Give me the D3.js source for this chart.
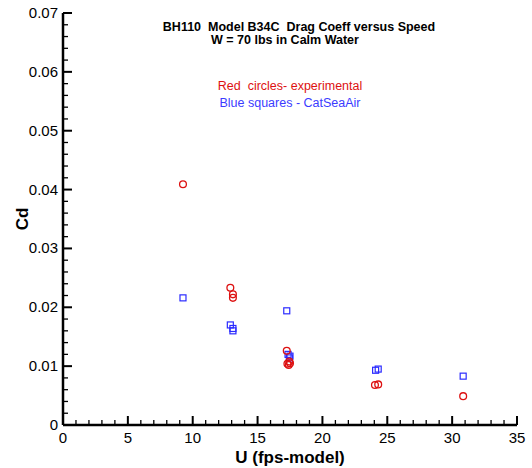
<!DOCTYPE html>
<html>
<head>
<meta charset="utf-8">
<script src="https://cdn.jsdelivr.net/npm/d3@7"></script>
<style>
  body { margin: 0; background: #fff; }
  text { font-family: "Liberation Sans", Arial, sans-serif; white-space: pre; }
</style>
</head>
<body>
<svg width="532" height="468"></svg>
<script>
// experimental (red circles)
var expU  = [9.25, 12.9, 13.1, 13.1, 17.25, 17.45, 17.3, 17.4, 17.5, 24.05, 24.3, 30.85];
var expCd = [0.0409, 0.0233, 0.0222, 0.0216, 0.0126, 0.0108, 0.0104, 0.0102, 0.0105, 0.0068, 0.0069, 0.0049];
// CatSeaAir (blue squares)
var csaU  = [9.25, 12.9, 13.1, 13.1, 17.25, 17.35, 17.5, 17.45, 24.1, 24.3, 30.85];
var csaCd = [0.0216, 0.0170, 0.0164, 0.0160, 0.0194, 0.0120, 0.0117, 0.0114, 0.0093, 0.0095, 0.0083];

var xTicks = [0, 5, 10, 15, 20, 25, 30, 35];
var yTicks = [0, 0.01, 0.02, 0.03, 0.04, 0.05, 0.06, 0.07];

var svg = d3.select("svg");
var margin = {left: 63, right: 15, top: 13, bottom: 43};
var width = +svg.attr("width"), height = +svg.attr("height");

var x = d3.scaleLinear().domain([0, 35]).range([margin.left, width - margin.right]);
var y = d3.scaleLinear().domain([0, 0.07]).range([height - margin.bottom, margin.top]);

// minor ticks
var xMinor = d3.range(0, 35.01, 1).filter(function (d) { return d % 5 !== 0; });
var yMinor = d3.range(0, 71, 2).map(function (d) { return d / 1000; })
    .filter(function (d) { return Math.round(d * 1000) % 10 !== 0; });

var g = svg.append("g");

g.selectAll(".xminor").data(xMinor).enter().append("line")
    .attr("x1", function (d) { return x(d); }).attr("x2", function (d) { return x(d); })
    .attr("y1", y(0)).attr("y2", y(0) - 5)
    .attr("stroke", "#000").attr("stroke-width", 1.3);
g.selectAll(".xmajor").data(xTicks).enter().append("line")
    .attr("x1", function (d) { return x(d); }).attr("x2", function (d) { return x(d); })
    .attr("y1", y(0)).attr("y2", y(0) - 9)
    .attr("stroke", "#000").attr("stroke-width", 2);
g.selectAll(".yminor").data(yMinor).enter().append("line")
    .attr("y1", function (d) { return y(d); }).attr("y2", function (d) { return y(d); })
    .attr("x1", x(0)).attr("x2", x(0) + 5)
    .attr("stroke", "#000").attr("stroke-width", 1.3);
g.selectAll(".ymajor").data(yTicks).enter().append("line")
    .attr("y1", function (d) { return y(d); }).attr("y2", function (d) { return y(d); })
    .attr("x1", x(0)).attr("x2", x(0) + 9)
    .attr("stroke", "#000").attr("stroke-width", 2);

// axis lines
g.append("line").attr("x1", x(0)).attr("x2", x(35)).attr("y1", y(0)).attr("y2", y(0))
    .attr("stroke", "#000").attr("stroke-width", 2.5);
g.append("line").attr("x1", x(0)).attr("x2", x(0)).attr("y1", y(0)).attr("y2", y(0.07))
    .attr("stroke", "#000").attr("stroke-width", 2.5);

// tick labels
g.selectAll(".xlab").data(xTicks).enter().append("text")
    .attr("x", function (d) { return x(d); })
    .attr("y", y(0) + 18)
    .attr("text-anchor", "middle")
    .style("font-size", "15px")
    .text(function (d) { return d; });
g.selectAll(".ylab").data(yTicks).enter().append("text")
    .attr("x", x(0) - 5)
    .attr("y", function (d) { return y(d) + 5; })
    .attr("text-anchor", "end")
    .style("font-size", "15px")
    .text(function (d) { return d === 0 ? "0" : d3.format(".2f")(d); });

// axis titles
svg.append("text")
    .attr("x", 290).attr("y", 463)
    .attr("text-anchor", "middle")
    .style("font-size", "17px").style("font-weight", "bold")
    .text("U (fps-model)");
svg.append("text")
    .attr("transform", "translate(28," + y(0.035) + ") rotate(-90)")
    .attr("text-anchor", "middle")
    .style("font-size", "17px").style("font-weight", "bold")
    .text("Cd");

// title & legend text
svg.append("text").attr("x", 299).attr("y", 31).attr("text-anchor", "middle")
    .style("font-size", "12.5px").style("font-weight", "bold")
    .text("BH110  Model B34C  Drag Coeff versus Speed");
svg.append("text").attr("x", 285).attr("y", 44).attr("text-anchor", "middle")
    .style("font-size", "12.5px").style("font-weight", "bold")
    .text("W = 70 lbs in Calm Water");
svg.append("text").attr("x", 290).attr("y", 90).attr("text-anchor", "middle")
    .style("font-size", "12.5px").attr("fill", "#dd1111")
    .text("Red  circles- experimental");
svg.append("text").attr("x", 290).attr("y", 107).attr("text-anchor", "middle")
    .style("font-size", "12.5px").attr("fill", "#3b3bff")
    .text("Blue squares - CatSeaAir");

// points
var exp = expU.map(function (u, i) { return {u: u, cd: expCd[i]}; });
var csa = csaU.map(function (u, i) { return {u: u, cd: csaCd[i]}; });

svg.append("g").selectAll("rect").data(csa).enter().append("rect")
    .attr("x", function (d) { return x(d.u) - 3; })
    .attr("y", function (d) { return y(d.cd) - 3; })
    .attr("width", 6).attr("height", 6)
    .attr("fill", "none").attr("stroke", "#2b2bff").attr("stroke-width", 1.2);

svg.append("g").selectAll("circle").data(exp).enter().append("circle")
    .attr("cx", function (d) { return x(d.u); })
    .attr("cy", function (d) { return y(d.cd); })
    .attr("r", 3.4)
    .attr("fill", "none").attr("stroke", "#dd1111").attr("stroke-width", 1.3);
</script>
</body>
</html>
